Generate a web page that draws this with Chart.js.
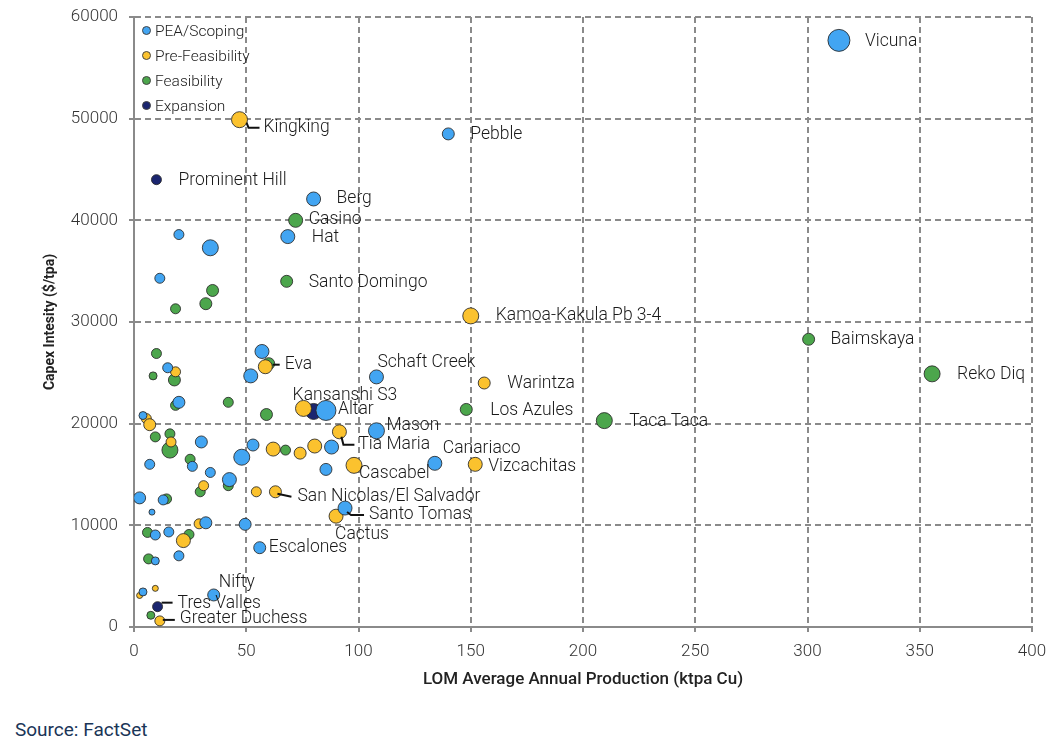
<!DOCTYPE html>
<html>
<head>
<meta charset="utf-8">
<script src="https://cdn.jsdelivr.net/npm/chart.js@4.4.1/dist/chart.umd.min.js"></script>
<style>
  body { margin: 0; background: #fff; width: 1056px; height: 745px; overflow: hidden; font-family: Roboto, Arial, sans-serif; }
  #wrap { position: absolute; left: 0; top: 0; width: 1056px; height: 700px; }
  #legend { position: absolute; left: 142px; top: 18px; font-size: 15.5px; font-weight: 300; color: #222; }
  .item { height: 25px; display: flex; align-items: center; }
  .dot { width: 7px; height: 7px; border-radius: 50%; border: 1px solid #444; margin-right: 4px; }
  #source { position: absolute; left: 15px; top: 718px; font-size: 19px; color: #1a3557; }
</style>
</head>
<body>
<div id="wrap"><canvas id="chart"></canvas></div>
<div id="legend"></div>
<div id="source">Source: FactSet</div>
<script>
/* Capex intensity vs LOM production, by project stage */

const stages = ['PEA/Scoping', 'Pre-Feasibility', 'Feasibility', 'Expansion'];
const stageColors = ['#42a5f2', '#fbc22e', '#4ca64c', '#1b2670'];

const xTicks = [0, 50, 100, 150, 200, 250, 300, 350, 400];
const yTicks = [0, 10000, 20000, 30000, 40000, 50000, 60000];

// PEA / Scoping
const peaNames = ['Vicuna','Pebble','Berg','Hat','Schaft Creek','Altar','Mason','Canariaco','Santo Tomas','Escalones','Nifty',
  '','','','','','','','','','','','','','','','','','','','','','','','','','',''];
const peaX = [314, 140, 80, 68.5, 108, 85.5, 108, 134, 94, 56, 35.5,
  20, 34, 11.5, 57, 15, 52, 20, 4, 30, 53, 88, 48, 7, 26, 85.5, 34, 42.5, 2.5, 13, 8, 32, 49.5, 9.5, 15.5, 20, 9.5, 4];
const peaY = [57700, 48500, 42100, 38400, 24600, 21300, 19300, 16100, 11700, 7800, 3150,
  38600, 37300, 34300, 27100, 25500, 24700, 22100, 20800, 18200, 17900, 17700, 16700, 16000, 15800, 15500, 15200, 14500,
  12700, 12500, 11300, 10250, 10100, 9050, 9350, 7000, 6500, 3450];
const peaR = [11, 6, 7, 7, 7, 10, 8, 7, 7, 6, 6,
  5, 8, 5, 7, 5, 7, 6, 4, 6, 6, 7, 8, 5, 5, 6, 5, 7, 6, 5, 3, 6, 6, 5, 5, 5, 4, 4];

// Pre-Feasibility
const preNames = ['Kingking','Kamoa-Kakula Pb 3-4','Warintza','Tia Maria','Vizcachitas','Cascabel','San Nicolas/El Salvador','Cactus','Greater Duchess',
  '','','','','','','','','','','','','','',''];
const preX = [47, 150, 156, 91.5, 152, 98, 63, 90, 11.5,
  75.5, 58.5, 18.5, 5.5, 7, 16.5, 62, 74, 80.5, 54.5, 31, 29, 22, 9.5, 2.5];
const preY = [49900, 30600, 24000, 19200, 16000, 15900, 13300, 10900, 600,
  21500, 25600, 25100, 20500, 19900, 18200, 17500, 17100, 17800, 13300, 13900, 10150, 8500, 3800, 3100];
const preR = [8, 8, 6, 7, 7, 8, 6, 7, 5,
  8, 7, 5, 5, 6, 5, 7, 6, 7, 5, 5, 5, 7, 3, 3];

// Feasibility
const feaNames = ['Casino','Santo Domingo','Baimskaya','Reko Diq','Eva','Los Azules','Taca Taca',
  '','','','','','','','','','','','','','','','','','','','',''];
const feaX = [72, 68, 300.5, 355.5, 60, 148, 209.5,
  35, 32, 18.5, 10, 8.5, 18, 18.5, 42, 59, 16, 9.5, 16, 25, 67.5, 29.5, 42, 14.5, 6, 24.5, 6.5, 7.5];
const feaY = [40000, 34000, 28300, 24900, 25900, 21400, 20300,
  33100, 31800, 31300, 26900, 24700, 24300, 21800, 22100, 20900, 19000, 18700, 17400, 16500, 17400, 13300, 13900,
  12600, 9300, 9100, 6700, 1150];
const feaR = [7, 6, 6, 8, 6, 6, 8,
  6, 6, 5, 5, 4, 6, 5, 5, 6, 5, 5, 8, 5, 5, 5, 5, 5, 5, 5, 5, 4];

// Expansion
const expNames = ['Prominent Hill', 'Kansanshi S3', 'Tres Valles'];
const expX = [10, 80, 10.5];
const expY = [44000, 21200, 2000];
const expR = [5, 8, 5];

// label placement (pixel offsets from the bubble centre) and leader lines
const labelOffset = {
  'Vicuna': [26, 1], 'Kingking': [24, 8], 'Pebble': [22, 1], 'Prominent Hill': [22, 1], 'Berg': [23, 0],
  'Casino': [13, -1], 'Hat': [24, 1], 'Santo Domingo': [22, 1], 'Kamoa-Kakula Pb 3-4': [25, 0], 'Baimskaya': [22, 0],
  'Reko Diq': [25, 1], 'Schaft Creek': [1, -14], 'Eva': [16, 1], 'Warintza': [23, 1], 'Los Azules': [24, 1],
  'Taca Taca': [25, 1], 'Kansanshi S3': [-21, -16], 'Altar': [12, -1], 'Mason': [10, -5], 'Tia Maria': [19, 13],
  'Canariaco': [8, -15], 'Vizcachitas': [13, 2], 'Cascabel': [5, 8], 'San Nicolas/El Salvador': [22, 5],
  'Santo Tomas': [24, 7], 'Cactus': [-1, 18], 'Escalones': [9, 0], 'Nifty': [5, -12], 'Tres Valles': [20, -3],
  'Greater Duchess': [20, -2]
};
const leaders = {
  'Kingking': [[7, 3], [9, 8], [20, 8]],
  'Eva': [[4, 1], [11, 1]],
  'Tia Maria': [[2, 5], [4, 13], [15, 13]],
  'San Nicolas/El Salvador': [[2, 2], [16, 5]],
  'Santo Tomas': [[2, 4], [6, 7], [19, 7]],
  'Tres Valles': [[4, -4], [15, -4]],
  'Greater Duchess': [[3, -1], [15, -1]]
};

function series(xs, ys, rs) {
  return xs.map((x, i) => ({ x: x, y: ys[i], r: rs[i] }));
}

const allNames = [peaNames, preNames, feaNames, expNames];
const datasets = [
  series(peaX, peaY, peaR), series(preX, preY, preR), series(feaX, feaY, feaR), series(expX, expY, expR)
].map((d, i) => ({
  label: stages[i], data: d, backgroundColor: stageColors[i],
  borderColor: 'rgba(40,40,40,0.85)', borderWidth: 1, hoverRadius: 0
}));

const pointLabels = {
  id: 'pointLabels',
  afterDatasetsDraw(chart) {
    const ctx = chart.ctx;
    ctx.save();
    ctx.font = '300 17.5px Roboto, Arial, sans-serif';
    ctx.fillStyle = '#1a1a1a';
    ctx.strokeStyle = '#111';
    ctx.lineWidth = 2;
    ctx.textBaseline = 'middle';
    ctx.textAlign = 'left';
    allNames.forEach((names, di) => {
      const meta = chart.getDatasetMeta(di);
      names.forEach((name, j) => {
        if (!name) return;
        const el = meta.data[j];
        const ld = leaders[name];
        if (ld) {
          ctx.beginPath();
          ld.forEach((p, k) => k ? ctx.lineTo(el.x + p[0], el.y + p[1]) : ctx.moveTo(el.x + p[0], el.y + p[1]));
          ctx.stroke();
        }
        const off = labelOffset[name] || [20, 0];
        ctx.fillText(name, el.x + off[0], el.y + off[1]);
      });
    });
    ctx.restore();
  }
};

const gridOpts = { color: '#8a8a8a', lineWidth: 2, tickLength: 5, tickBorderDash: [], tickColor: '#8a8a8a' };
const borderOpts = { display: true, color: '#8a8a8a', width: 2, dash: [6, 4] };
const tickFont = { size: 17, weight: '300', family: 'Roboto' };

new Chart(document.getElementById('chart'), {
  type: 'bubble',
  data: { datasets: datasets },
  plugins: [pointLabels],
  options: {
    responsive: true, maintainAspectRatio: false, animation: false,
    layout: { padding: { left: 0, right: 24, top: 17, bottom: 0 } },
    plugins: { legend: { display: false }, tooltip: { enabled: false } },
    scales: {
      x: {
        type: 'linear', min: 0, max: 400,
        afterBuildTicks: s => { s.ticks = xTicks.map(v => ({ value: v })); },
        afterFit: s => { s.height = 73; s.paddingLeft = 0; s.paddingRight = 0; },
        grid: gridOpts,
        border: borderOpts,
        ticks: { color: '#333', font: tickFont, padding: 10, callback: v => String(v) },
        title: { display: true, text: 'LOM Average Annual Production (ktpa Cu)', color: '#222',
          font: { size: 17, weight: '500', family: 'Roboto' }, padding: { top: 0, bottom: 10 } }
      },
      y: {
        type: 'linear', min: 0, max: 60000,
        afterBuildTicks: s => { s.ticks = yTicks.map(v => ({ value: v })); },
        afterFit: s => { s.width = 134; s.paddingTop = 0; s.paddingBottom = 0; },
        grid: gridOpts,
        border: borderOpts,
        ticks: { color: '#333', font: tickFont, padding: 11, callback: v => String(v) },
        title: { display: true, text: 'Capex Intesity ($/tpa)', color: '#222',
          font: { size: 14, weight: 'bold', family: 'Roboto' }, padding: { top: 42, bottom: 0 } }
      }
    }
  }
});

// legend, stacked in the top-left corner of the plot
const legend = document.getElementById('legend');
stages.forEach((s, i) => {
  const row = document.createElement('div');
  row.className = 'item';
  row.innerHTML = '<span class="dot" style="background:' + stageColors[i] + '"></span>' + s;
  legend.appendChild(row);
});
</script>
</body>
</html>
